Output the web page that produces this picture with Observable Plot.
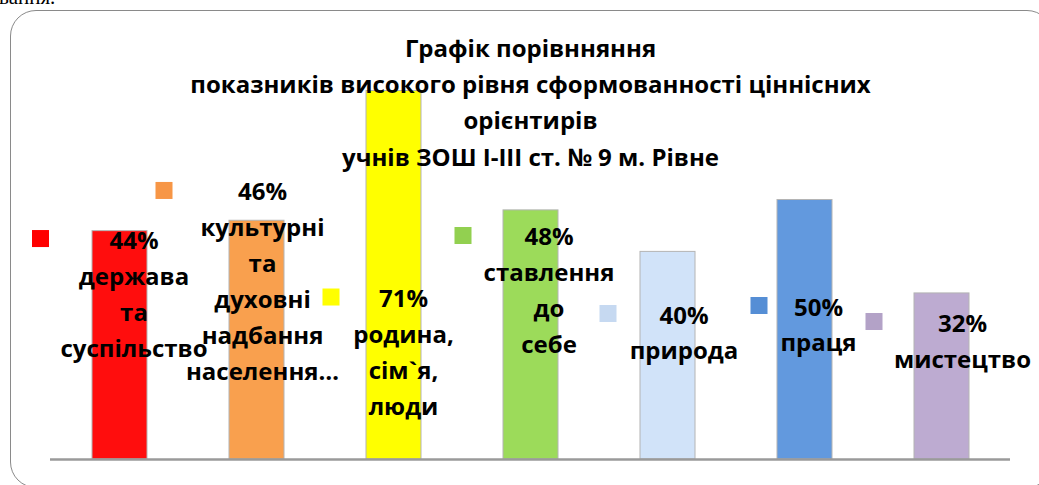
<!DOCTYPE html>
<html><head><meta charset="utf-8">
<script src="https://cdn.jsdelivr.net/npm/d3@7"></script>
<script src="https://cdn.jsdelivr.net/npm/@observablehq/plot@0.6"></script>
<style>
html,body{margin:0;padding:0;background:#fff;}
#wrap{position:relative;width:1039px;height:485px;overflow:hidden;background:#fff;}
#frame{position:absolute;left:10px;top:10px;width:1043px;height:478px;border:1.5px solid #8a8a8a;border-radius:26px;box-sizing:border-box;}
#above{position:absolute;left:-1px;top:-15px;font-family:"Liberation Serif";font-size:21px;line-height:24px;color:#000;}
#chart{position:absolute;left:0;top:0;}
</style></head><body>
<div id="wrap"><div id="above">вання.</div><div id="frame"></div><div id="chart"></div></div>
<script>
// ---- data ----
const categories = ["держава та суспільство", "культурні та духовні надбання населення", "родина, сім`я, люди", "ставлення до себе", "природа", "праця", "мистецтво"];
const values = [44, 46, 71, 48, 40, 50, 32];
const labelLines = ["держава\nта\nсуспільство", "культурні\nта\nдуховні\nнадбання\nнаселення…", "родина,\nсім`я,\nлюди", "ставлення\nдо\nсебе", "природа", "праця", "мистецтво"];
const titleLines = ["Графік порівнняння", "показників високого рівня сформованності ціннісних", "орієнтирів", "учнів ЗОШ І-ІІІ ст. № 9 м. Рівне"];

// ---- styles / layout ----
const barColors = ["#ff0d0d", "#f9a04e", "#ffff00", "#9cdb5a", "#d1e3f9", "#6299de", "#bdabd1"];
const keyColors = ["#ff0000", "#f79646", "#ffff00", "#92d050", "#c6d9f1", "#558ed5", "#b3a2c7"];
const labelDx = [14, 5.5, 9.5, 18, 16, 13.5, 20.5];
const labelBase = [17.4, -20.3, 216, 35.1, 71.6, 115.5, 38.1];
const keyDx = [-93.5, -98.5, -72.5, -86, -76, -59.5, -88.5];
const FONT = "'Open Sans', sans-serif";
const FS = 24, LINE = 36, LH = LINE / FS;
const TFS = 24, TLINE = 36.2, TLH = TLINE / TFS;

const rows = categories.map((c, i) => ({cat: c, value: values[i], lines: labelLines[i]}));

const marks = [
  Plot.barY(rows, {x: "cat", y: "value", fill: "cat", stroke: "#b4b4b4", strokeWidth: 1}),
  Plot.ruleY([0], {stroke: "#9a9a9a", strokeWidth: 2.5})
];
rows.forEach((r, i) => {
  marks.push(Plot.dot([r], {x: "cat", y: "value", symbol: "square", r: 9.6, fill: keyColors[i], stroke: "none",
    dx: labelDx[i] + keyDx[i], dy: labelBase[i] - 10}));
  marks.push(Plot.text([r], {x: "cat", y: "value", text: d => `${d.value}%\n${d.lines}`,
    dx: labelDx[i], dy: labelBase[i] - 0.71 * LINE, lineAnchor: "top", lineHeight: LH,
    fontSize: FS, fontWeight: "bold", fill: "#000", fontFamily: FONT}));
});
marks.push(Plot.text([titleLines.join("\n")], {text: d => d, frameAnchor: "top", lineAnchor: "top",
  dy: 56.5 - 43.8 - 0.71 * TLINE, lineHeight: TLH, fontSize: TFS, fontWeight: "bold", fill: "#000", fontFamily: FONT}));

const chart = Plot.plot({
  width: 1039, height: 485,
  marginLeft: 50, marginRight: 29, marginTop: 43.8, marginBottom: 26,
  style: {background: "transparent", overflow: "visible"},
  x: {domain: categories, paddingInner: 0.6, paddingOuter: 0.3, axis: null},
  y: {domain: [0, 80], axis: null},
  color: {domain: categories, range: barColors},
  marks
});
document.getElementById("chart").appendChild(chart);
</script>
</body></html>
